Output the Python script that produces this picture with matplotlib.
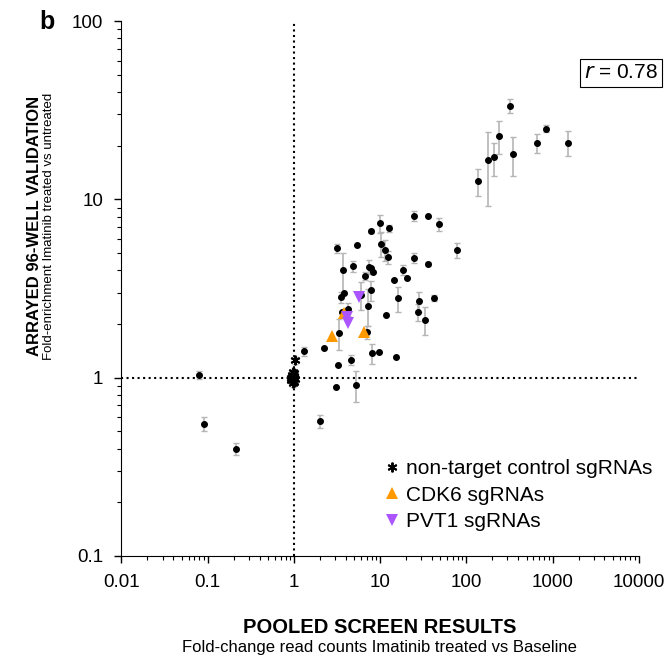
import numpy as np
import matplotlib
matplotlib.use("Agg")
import matplotlib.pyplot as plt
from matplotlib.lines import Line2D

plt.rcParams['font.family'] = ['Liberation Sans', 'DejaVu Sans']

# validated sgRNAs: pooled screen fold-change vs arrayed fold-enrichment
hit_x = [3.15, 3.75, 5.45, 4.86, 7.87, 10.0, 12.7, 24.8, 35.7, 48.0,
         78.8, 10.2, 11.3, 12.5, 7.51, 7.87, 8.36, 6.64, 18.6, 20.6,
         14.3, 24.8, 35.7, 3.79, 3.50, 6.07, 7.80, 7.31, 4.25, 3.62,
         16.0, 28.6, 27.6, 42.0, 11.6, 33.5, 3.32, 7.07, 2.26, 1.31,
         8.08, 9.82, 4.57, 3.26, 15.3, 5.23, 3.09, 2.01, 0.091, 0.080,
         0.213, 136, 179, 212, 242, 325, 346, 658, 836, 1530]
hit_y = [5.32, 4.00, 5.55, 4.23, 6.65, 7.34, 6.88, 8.11, 8.03, 7.25,
         5.20, 5.65, 5.23, 4.75, 4.20, 4.11, 3.92, 3.74, 4.04, 3.61,
         3.52, 4.68, 4.35, 2.98, 2.82, 2.93, 3.11, 2.54, 2.43, 2.33,
         2.79, 2.68, 2.34, 2.80, 2.26, 2.11, 1.78, 1.80, 1.46, 1.41,
         1.37, 1.40, 1.26, 1.18, 1.30, 0.914, 0.89, 0.57, 0.55, 1.04,
         0.40, 12.7, 16.6, 17.2, 22.8, 33.6, 17.9, 20.8, 25.0, 20.8]
hit_err = [0.30, 1.00, 0.00, 0.30, 0.20, 0.85, 0.30, 0.50, 0.00, 0.60,
           0.50, 0.90, 0.70, 0.40, 0.40, 0.00, 0.00, 0.20, 0.25, 0.00,
           0.00, 0.30, 0.10, 0.00, 0.20, 0.52, 0.40, 0.60, 0.20, 0.00,
           0.45, 0.35, 0.25, 0.10, 0.00, 0.37, 0.35, 0.15, 0.00, 0.08,
           0.17, 0.00, 0.08, 0.00, 0.00, 0.18, 0.00, 0.05, 0.05, 0.05,
           0.03, 2.2, 7.4, 3.6, 4.8, 3.0, 4.4, 2.5, 1.1, 3.3]

# non-target controls
ctrl_x = [1.03, 0.97, 0.95, 1.00, 0.93, 0.98, 1.02, 0.96, 0.99, 0.94, 1.01, 0.97, 0.92, 1.00]
ctrl_y = [1.25, 1.08, 1.04, 1.02, 1.00, 0.99, 0.98, 0.97, 0.95, 1.01, 1.06, 0.93, 0.97, 1.00]
ctrl_err = [0.05, 0.04, 0.04, 0.03, 0.04, 0.03, 0.04, 0.03, 0.04, 0.03, 0.04, 0.04, 0.03, 0.04]

# CDK6 and PVT1 sgRNAs
cdk6_x = [2.75, 3.79, 6.47]
cdk6_y = [1.72, 2.32, 1.81]
pvt1_x = [5.71, 4.18, 4.29]
pvt1_y = [2.85, 2.20, 2.02]

x_ticks = [0.01, 0.1, 1, 10, 100, 1000, 10000]
x_ticklabels = ['0.01', '0.1', '1', '10', '100', '1000', '10000']
y_ticks = [0.1, 1, 10, 100]
y_ticklabels = ['0.1', '1', '10', '100']

fig = plt.figure(figsize=(6.71, 6.63), dpi=100)
ax = fig.add_axes([0.181, 0.1614, 0.771, 0.8066])

ax.set_xscale('log')
ax.set_yscale('log')
ax.set_xlim(0.01, 10000)
ax.set_ylim(0.1, 100)

ax.axvline(1, color='black', linestyle=':', linewidth=1.5, zorder=1)
ax.axhline(1, color='black', linestyle=':', linewidth=1.5, zorder=1)

err_style = dict(fmt='none', ecolor='#b5b5b5', elinewidth=1.2, capsize=2.5, capthick=1.0, zorder=2)
ax.errorbar(hit_x, hit_y, yerr=hit_err, **err_style)
ax.errorbar(ctrl_x, ctrl_y, yerr=ctrl_err, **err_style)

ax.plot(hit_x, hit_y, 'o', color='black', markersize=4, zorder=3)
ax.plot(ctrl_x, ctrl_y, linestyle='none', marker=(6, 2, 0), color='black',
        markersize=7, markeredgewidth=1.4, zorder=3)
ax.plot(cdk6_x, cdk6_y, '^', color='#ff9900', markersize=9, markeredgewidth=0, zorder=4)
ax.plot(pvt1_x, pvt1_y, 'v', color='#aa55ff', markersize=9, markeredgewidth=0, zorder=4)

ax.spines['top'].set_visible(False)
ax.spines['right'].set_visible(False)
ax.set_xticks(x_ticks)
ax.set_xticklabels(x_ticklabels)
ax.set_yticks(y_ticks)
ax.set_yticklabels(y_ticklabels)
ax.tick_params(which='major', direction='out', length=5, width=1, labelsize=13.5, pad=8)
ax.tick_params(which='minor', direction='out', length=3, width=0.8)

# labels
fig.text(0.566, 0.053, 'POOLED SCREEN RESULTS', ha='center', va='center',
         fontsize=14.5, fontweight='bold')
fig.text(0.566, 0.023, 'Fold-change read counts Imatinib treated vs Baseline',
         ha='center', va='center', fontsize=12)
fig.text(0.052, 0.659, 'ARRAYED 96-WELL VALIDATION', ha='center', va='center',
         rotation=90, fontsize=12, fontweight='bold')
fig.text(0.073, 0.659, 'Fold-enrichment Imatinib treated vs untreated',
         ha='center', va='center', rotation=90, fontsize=9.5)
fig.text(0.058, 0.967, 'b', ha='left', va='center', fontsize=18, fontweight='bold')

fig.text(584 / 671, 1 - 73 / 663, r'$\it{r}$ = 0.78', ha='left', va='center',
         fontsize=15, bbox=dict(boxstyle='square,pad=0.2', facecolor='white',
                                edgecolor='black', linewidth=0.8))

handles = [
    Line2D([], [], linestyle='none', marker=(6, 2, 0), color='black', markersize=7, markeredgewidth=1.4),
    Line2D([], [], linestyle='none', marker='^', color='#ff9900', markersize=9, markeredgewidth=0),
    Line2D([], [], linestyle='none', marker='v', color='#aa55ff', markersize=9, markeredgewidth=0),
]
labels = ['non-target control sgRNAs', 'CDK6 sgRNAs', 'PVT1 sgRNAs']
fig.legend(handles, labels, loc='upper left', bbox_to_anchor=(0.553, 0.323),
           frameon=False, fontsize=15, handlelength=1.0, handletextpad=0.2,
           labelspacing=0.36, borderpad=0)

fig.savefig('out.png', dpi=100)
